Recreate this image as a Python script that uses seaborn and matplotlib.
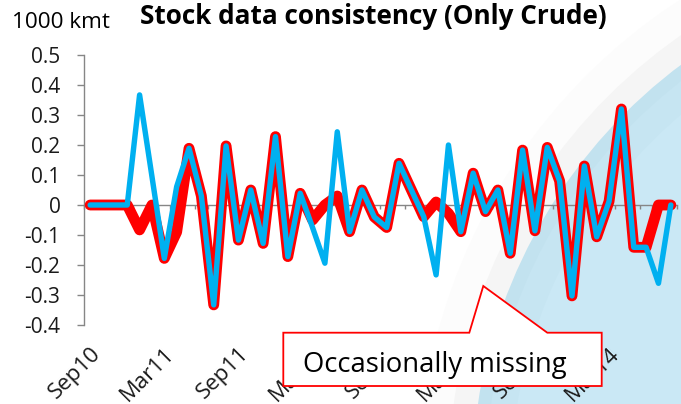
import numpy as np
import pandas as pd
import seaborn as sns
import matplotlib
matplotlib.use("Agg")
import matplotlib.pyplot as plt
from matplotlib.patches import Circle, Polygon
from matplotlib.ticker import FuncFormatter

# ---------------- data (1000 kmt, monthly Sep10 .. Aug14) ----------------
red_series = [0.0, 0.0, 0.0, 0.0, -0.083, 0.0, -0.178, -0.09, 0.189, 0.03,
              -0.333, 0.197, -0.117, 0.05, -0.128, 0.228, -0.172, 0.039, -0.05, 0.0,
              0.03, -0.089, 0.05, -0.04, -0.075, 0.139, 0.05, -0.039, 0.01, -0.028,
              -0.089, 0.106, -0.022, 0.05, -0.161, 0.183, -0.086, 0.192, 0.08, -0.303,
              0.13, -0.106, 0.012, 0.32, -0.141, -0.141, 0.0, 0.0]
blue_series = [0.0, 0.0, 0.0, 0.0, 0.367, 0.095, -0.178, 0.061, 0.189, 0.03,
               -0.333, 0.197, -0.117, 0.05, -0.128, 0.228, -0.172, 0.039, -0.075, -0.194,
               0.244, -0.089, 0.05, -0.04, -0.075, 0.139, 0.05, -0.039, -0.233, 0.2,
               -0.089, 0.106, -0.022, 0.05, -0.161, 0.183, -0.086, 0.192, 0.08, -0.303,
               0.13, -0.106, 0.012, 0.32, -0.141, -0.141, -0.261, 0.0]
tick_labels = ["Sep10", "Mar11", "Sep11", "Mar12", "Sep12", "Mar13", "Sep13", "Mar14"]
y_ticks = [-0.4, -0.3, -0.2, -0.1, 0.0, 0.1, 0.2, 0.3, 0.4, 0.5]
title_text = "Stock data consistency (Only Crude)"
unit_text = "1000 kmt"
callout_text = "Occasionally missing"

n = len(red_series)
df = pd.DataFrame({"idx": np.arange(n), "red": red_series, "blue": blue_series})

# ---------------- style ----------------
sns.set_theme(style="white")
plt.rcParams["font.family"] = ["Open Sans", "DejaVu Sans"]

W, H, DPI = 681, 404, 100
GREY = "#868686"
RED = "#FF0000"
BLUE = "#00B0F0"

fig = plt.figure(figsize=(W / DPI, H / DPI), dpi=DPI, facecolor="white")


def P(x, y):
    return (x / DPI, (H - y) / DPI)


# background decoration (slide artwork)
cx, cy = 993, 482
for r, c in [(575, "#fcfcfc"), (545, "#f5f5f5"), (521, "#c2e2ef"),
             (508, "#c6e5f2"), (482, "#cae8f5")]:
    fig.add_artist(Circle(P(cx, cy), r / DPI, transform=fig.dpi_scale_trans,
                          facecolor=c, edgecolor="none", zorder=-5))

# ---------------- axes ----------------
ax = fig.add_axes([84 / W, (H - 325) / H, (677 - 84) / W, (325 - 55) / H])
ax.patch.set_alpha(0)

sns.lineplot(data=df, x="idx", y="red", ax=ax, color=RED, lw=7.8,
             solid_capstyle="round", solid_joinstyle="round", zorder=3)
sns.lineplot(data=df, x="idx", y="blue", ax=ax, color=BLUE, lw=3.9,
             solid_capstyle="round", solid_joinstyle="round", zorder=4)

ax.set_xlim(-0.5, n - 0.5)
ax.set_ylim(-0.4, 0.5)
ax.set_xlabel("")
ax.set_ylabel("")

for s in ["top", "right"]:
    ax.spines[s].set_visible(False)
ax.spines["left"].set_color(GREY)
ax.spines["left"].set_linewidth(1.0)
ax.spines["bottom"].set_position(("data", 0))
ax.spines["bottom"].set_color(GREY)
ax.spines["bottom"].set_linewidth(1.0)

ax.set_yticks(y_ticks)
ax.yaxis.set_major_formatter(FuncFormatter(lambda v, _: "0" if abs(v) < 1e-9 else f"{v:.1f}"))
ax.tick_params(axis="y", direction="out", length=5, width=1.0, color=GREY,
               labelsize=15, pad=12, labelcolor="#1a1a1a", left=True)

ax.set_xticks(np.arange(-0.5, n, 1.0))
ax.tick_params(axis="x", direction="out", length=3, width=1.0, color=GREY,
               labelbottom=False, bottom=True)

sec = ax.secondary_xaxis("bottom")
sec.set_xticks(np.arange(0, n, 6), labels=tick_labels)
sec.spines["bottom"].set_visible(False)
sec.tick_params(length=0, pad=13, labelsize=16, labelcolor="#1a1a1a")
for lbl in sec.get_xticklabels():
    lbl.set_rotation(45)
    lbl.set_ha("right")
    lbl.set_va("top")
    lbl.set_rotation_mode("anchor")

# ---------------- texts ----------------
renderer = fig.canvas.get_renderer()


def fit(t, target_w):
    w = t.get_window_extent(renderer).width
    t.set_fontsize(t.get_fontsize() * target_w / w)


t_title = fig.text(140 / W, (H - 24.5) / H, title_text, fontweight="bold",
                   fontsize=20, ha="left", va="baseline", color="black")
fit(t_title, 468)

t_unit = fig.text(11.7 / W, (H - 28.3) / H, unit_text, fontsize=16,
                  ha="left", va="baseline", color="black")
fit(t_unit, 98)

# callout
call_pts = [P(283.3, 332.7), P(469.3, 332.7), P(483.3, 286), P(547.3, 332.7),
            P(601.7, 332.7), P(601.7, 386), P(283.3, 386)]
fig.add_artist(Polygon(call_pts, closed=True, transform=fig.dpi_scale_trans,
                       facecolor="white", edgecolor=RED, linewidth=1.3, zorder=10))
t_call = fig.text(435 / W, (H - 371.7) / H, callout_text, fontsize=20,
                  ha="center", va="baseline", color="black", zorder=11)
fit(t_call, 264)

fig.savefig("out.png", dpi=DPI, facecolor="white")
